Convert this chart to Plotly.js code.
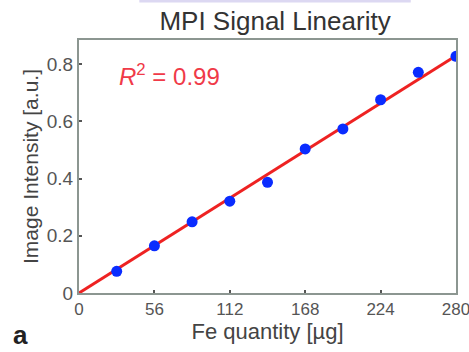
<!DOCTYPE html>
<html><head><meta charset="utf-8">
<script src="https://cdn.plot.ly/plotly-3.0.1.min.js"></script>
<style>html,body{margin:0;padding:0;background:#fff;}#c{width:469px;height:352px;}</style>
</head><body><div id="c"></div>
<script>
const feQuantity = [28, 56, 84, 112, 140, 168, 196, 224, 252, 280];
const intensity = [0.076, 0.165, 0.249, 0.321, 0.387, 0.504, 0.574, 0.676, 0.772, 0.828];
const fitX = [0, 280];
const fitY = [0, 0.83];
const xTicks = [0, 56, 112, 168, 224, 280];
const yTicks = [0, 0.2, 0.4, 0.6, 0.8];
const yTickLabels = ['0', '0.2', '0.4', '0.6', '0.8'];

const FF = 'Liberation Sans, Arial, sans-serif';
const axisCol = '#8c9691';

const traces = [
  {x: fitX, y: fitY, mode: 'lines', line: {color: '#ee2222', width: 3}, hoverinfo: 'skip'},
  {x: feQuantity, y: intensity, mode: 'markers', marker: {color: '#0a2cff', size: 11}}
];
const layout = {
  width: 469, height: 352,
  margin: {l: 79, r: 13, t: 40, b: 59},
  showlegend: false,
  paper_bgcolor: '#fff', plot_bgcolor: '#fff',
  title: {text: 'MPI Signal Linearity', xref: 'paper', x: 0.52, xanchor: 'center', yref: 'container', y: 0.94, yanchor: 'middle',
          font: {family: FF, size: 26, color: '#333'}},
  xaxis: {range: [0, 280], tickvals: xTicks, ticktext: xTicks.map(String), ticks: 'inside', ticklen: 3,
          tickcolor: '#555', tickwidth: 2, ticklabeloverflow: 'allow',
          showline: true, mirror: true, linecolor: axisCol, linewidth: 2, showgrid: false, zeroline: false,
          tickfont: {family: FF, size: 17, color: '#555'},
          title: {text: 'Fe quantity [µg]', font: {family: FF, size: 22, color: '#444'}, standoff: 2}},
  yaxis: {range: [0, 0.885], tickvals: yTicks, ticktext: yTickLabels, ticks: 'inside', ticklen: 3,
          tickcolor: '#555', tickwidth: 2,
          showline: true, mirror: true, linecolor: axisCol, linewidth: 2, showgrid: false, zeroline: false,
          tickfont: {family: FF, size: 19, color: '#555'},
          title: {text: 'Image Intensity [a.u.]', font: {family: FF, size: 21, color: '#444'}, standoff: 2}},
  annotations: [
    {xref: 'paper', yref: 'paper', x: 0.1, y: 0.86, xanchor: 'left', yanchor: 'middle', showarrow: false,
     text: '<i>R</i><sup>2</sup> = 0.99', font: {family: FF, size: 24, color: '#f03a48'}},
    {xref: 'paper', yref: 'paper', x: -0.18, y: -0.233, xanchor: 'left', yanchor: 'bottom', showarrow: false,
     text: '<b>a</b>', font: {family: FF, size: 26, color: '#222'}}
  ],
  shapes: [
    {type: 'rect', xref: 'paper', yref: 'paper', x0: 0.16, x1: 0.88, y0: 1.148, y1: 1.16,
     line: {width: 0}, fillcolor: '#dcd8f2'}
  ]
};
Plotly.newPlot('c', traces, layout, {displayModeBar: false, staticPlot: true});
</script></body></html>
